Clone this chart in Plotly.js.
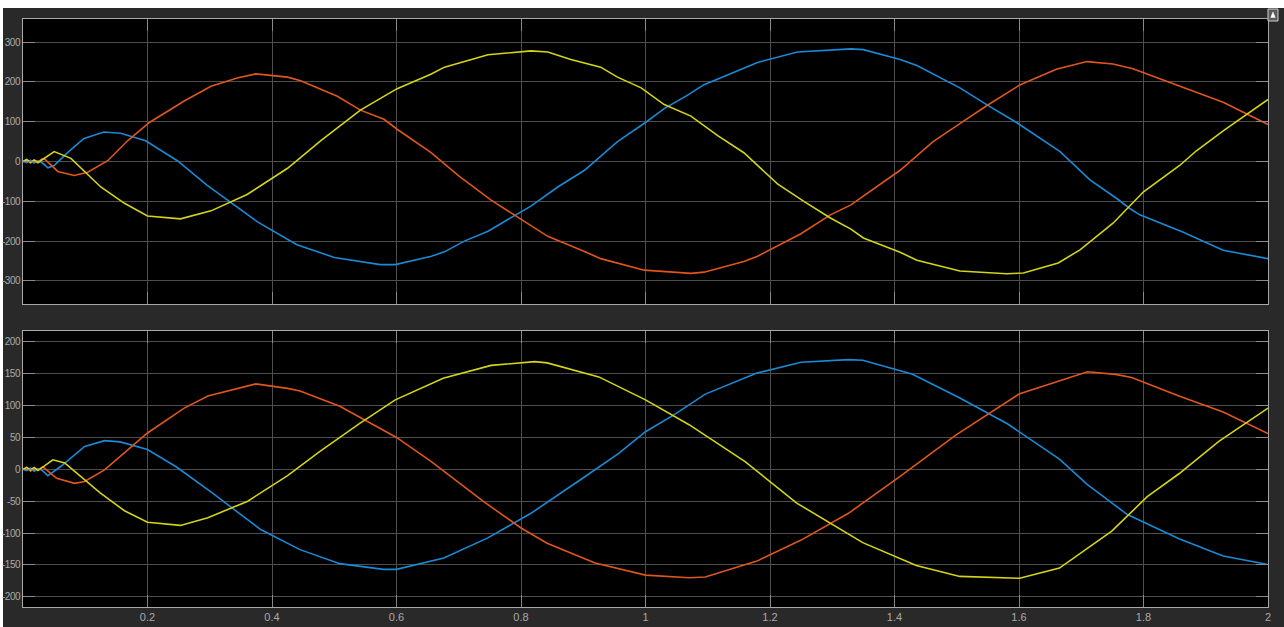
<!DOCTYPE html>
<html>
<head>
<meta charset="utf-8">
<script src="https://cdn.plot.ly/plotly-3.0.1.min.js"></script>
<style>
html,body{margin:0;padding:0;background:#ffffff;width:1284px;height:627px;overflow:hidden;}
#chart{position:absolute;left:0;top:0;width:1284px;height:627px;}
#chart .ytick text, #chart .y2tick text{letter-spacing:-0.5px;}
</style>
</head>
<body>
<div id="chart"></div>
<script>
// ---- Top panel data ----
const tTopBlue = [0,0.006,0.012,0.018,0.024,0.03,0.04,0.05,0.072,0.098,0.13,0.157,0.197,0.248,0.296,0.328,0.376,0.44,0.5,0.574,0.598,0.656,0.677,0.709,0.747,0.784,0.816,0.859,0.902,0.955,1.0,1.03,1.067,1.094,1.153,1.18,1.244,1.33,1.35,1.409,1.436,1.505,1.548,1.596,1.666,1.714,1.757,1.778,1.794,1.864,1.928,2.0];
const vTopBlue = [0,-3,3,-4,2,-2,-16,-10,23,58,74,71,52,2,-60,-97,-151,-209,-241,-259,-259,-238,-227,-200,-175,-141,-112,-64,-22,50,98,133,166,193,231,249,275,283,281,256,241,185,143,98,25,-46,-93,-118,-134,-178,-223,-244];

const tTopOrange = [0,0.006,0.012,0.018,0.024,0.03,0.034,0.056,0.082,0.104,0.136,0.168,0.203,0.259,0.302,0.344,0.374,0.425,0.446,0.505,0.542,0.58,0.601,0.655,0.699,0.752,0.789,0.843,0.902,0.928,0.998,1.073,1.094,1.158,1.18,1.249,1.297,1.33,1.409,1.462,1.505,1.548,1.602,1.66,1.709,1.751,1.783,1.842,1.928,2.0];
const vTopOrange = [0,4,-4,3,-2,6,7,-25,-35,-27,2,52,98,152,189,210,220,212,203,164,129,106,81,23,-35,-97,-134,-188,-226,-244,-273,-281,-278,-251,-238,-182,-134,-109,-22,50,95,140,193,232,251,245,233,198,149,93];

const tTopYellow = [0,0.006,0.012,0.018,0.024,0.03,0.05,0.077,0.125,0.163,0.2,0.253,0.302,0.36,0.425,0.478,0.542,0.601,0.656,0.677,0.747,0.816,0.843,0.88,0.928,0.955,0.993,1.03,1.073,1.116,1.158,1.212,1.255,1.297,1.33,1.35,1.409,1.436,1.505,1.58,1.607,1.663,1.698,1.751,1.8,1.858,1.885,1.928,2.0];
const vTopYellow = [0,5,-2,4,-3,3,25,8,-64,-105,-137,-144,-124,-83,-17,52,129,183,220,237,268,278,275,256,237,212,185,143,114,65,22,-56,-101,-142,-170,-192,-228,-248,-275,-282,-280,-255,-222,-155,-76,-10,27,77,156];

// ---- Bottom panel data ----
const tBotBlue = [0,0.006,0.012,0.018,0.024,0.03,0.04,0.06,0.099,0.131,0.156,0.2,0.246,0.304,0.381,0.445,0.509,0.579,0.6,0.676,0.746,0.816,0.899,0.957,1.0,1.045,1.096,1.179,1.25,1.326,1.349,1.429,1.505,1.582,1.665,1.71,1.774,1.857,1.928,1.998];
const vBotBlue = [0,-2,2,-3,1,-1,-10,4,36,45,43,31,4,-37,-94,-126,-148,-157,-157,-139,-108,-69,-14,25,59,85,118,151,168,172,171,149,112,71,16,-24,-71,-109,-136,-149];

const tBotOrange = [0,0.006,0.012,0.018,0.024,0.032,0.054,0.083,0.099,0.131,0.2,0.259,0.297,0.374,0.425,0.445,0.509,0.573,0.6,0.656,0.739,0.8,0.842,0.919,1.0,1.07,1.096,1.179,1.25,1.326,1.409,1.499,1.6,1.71,1.755,1.781,1.857,1.928,2.0];
const vBotOrange = [0,3,-3,2,-1,4,-14,-22,-19,-1,57,96,115,134,127,123,99,64,50,12,-50,-92,-116,-147,-166,-170,-169,-144,-111,-69,-11,54,118,153,149,144,115,90,56];

const tBotYellow = [0,0.006,0.012,0.018,0.024,0.03,0.048,0.067,0.124,0.163,0.2,0.253,0.297,0.361,0.425,0.477,0.541,0.598,0.675,0.752,0.822,0.842,0.925,1.0,1.07,1.16,1.243,1.349,1.435,1.505,1.601,1.665,1.749,1.806,1.857,1.921,2.0];
const vBotYellow = [0,3,-1,3,-2,2,15,10,-37,-65,-83,-88,-76,-50,-10,28,72,109,143,163,169,167,145,109,70,12,-53,-115,-151,-168,-171,-155,-97,-43,-7,44,96];

// ---- Tick labels ----
const xTickVals = [0.2,0.4,0.6,0.8,1,1.2,1.4,1.6,1.8,2];
const xTickText = ['0.2','0.4','0.6','0.8','1','1.2','1.4','1.6','1.8','2'];
const yTopTickVals = [-300,-200,-100,0,100,200,300];
const yTopTickText = ['-300','-200','-100','0','100','200','300'];
const yBotTickVals = [-200,-150,-100,-50,0,50,100,150,200];
const yBotTickText = ['-200','-150','-100','-50','0','50','100','150','200'];

const cBlue = '#1a8ad6', cOrange = '#e0561c', cYellow = '#d4d418';

function tr(x, y, color, xa, ya) {
  return {x: x, y: y, type: 'scatter', mode: 'lines', xaxis: xa, yaxis: ya,
          line: {color: color, width: 1.6}, hoverinfo: 'skip', showlegend: false};
}

const data = [
  tr(tTopBlue, vTopBlue, cBlue, 'x', 'y'),
  tr(tTopOrange, vTopOrange, cOrange, 'x', 'y'),
  tr(tTopYellow, vTopYellow, cYellow, 'x', 'y'),
  tr(tBotBlue, vBotBlue, cBlue, 'x2', 'y2'),
  tr(tBotOrange, vBotOrange, cOrange, 'x2', 'y2'),
  tr(tBotYellow, vBotYellow, cYellow, 'x2', 'y2')
];

const tickFontY = {family: '"Liberation Sans Narrow", "Liberation Sans", sans-serif', size: 10, color: '#a9a9a9'};
const tickFontX = {family: '"Liberation Sans Narrow", "Liberation Sans", sans-serif', size: 11, color: '#a9a9a9'};

const axCommon = {
  showline: true, linecolor: '#a8a8a8', linewidth: 1, mirror: 'ticks',
  ticks: 'inside', ticklen: 12, tickcolor: '#8a8a8a', tickwidth: 1,
  showgrid: true, gridcolor: '#4e4e4e', gridwidth: 1,
  zeroline: false, fixedrange: true
};

// paper coordinates: plot area spans page x 23..1268, page y 19..607
const layout = {
  width: 1284, height: 627,
  margin: {l: 23, r: 16, t: 19, b: 20, pad: 0},
  paper_bgcolor: '#292929', plot_bgcolor: '#000000',
  showlegend: false,
  xaxis: Object.assign({}, axCommon, {domain: [0, 1], range: [0, 2], anchor: 'y', tickfont: tickFontX,
    tickmode: 'array', tickvals: xTickVals, ticktext: xTickText, showticklabels: false}),
  yaxis: Object.assign({}, axCommon, {domain: [0.5153, 1], range: [-358, 358], anchor: 'x', tickfont: tickFontY,
    tickmode: 'array', tickvals: yTopTickVals, ticktext: yTopTickText}),
  xaxis2: Object.assign({}, axCommon, {domain: [0, 1], range: [0, 2], anchor: 'y2', tickfont: tickFontX,
    tickmode: 'array', tickvals: xTickVals, ticktext: xTickText, showticklabels: true}),
  yaxis2: Object.assign({}, axCommon, {domain: [0, 0.4694], range: [-216, 217], anchor: 'x2', tickfont: tickFontY,
    tickmode: 'array', tickvals: yBotTickVals, ticktext: yBotTickText}),
  shapes: [
    // white frame strips of the screenshot (left and top)
    {type: 'rect', xref: 'paper', yref: 'paper', layer: 'below',
     x0: -0.0190, x1: -0.01606, y0: -0.04, y1: 1.04, fillcolor: '#ffffff', line: {width: 0}},
    {type: 'rect', xref: 'paper', yref: 'paper', layer: 'below',
     x0: -0.0190, x1: 1.02, y0: 1.01871, y1: 1.04, fillcolor: '#ffffff', line: {width: 0}},
    // small window icon at top right
    {type: 'rect', xref: 'paper', yref: 'paper', x0: 1.0, x1: 1.00803, y0: 0.9966, y1: 1.0170,
     fillcolor: '#5a5a5a', line: {color: '#d0d0d0', width: 1}},
    {type: 'path', xref: 'paper', yref: 'paper',
     path: 'M 1.0022 1.0025 L 1.0058 1.0025 L 1.0040 1.0120 Z',
     fillcolor: '#ffffff', line: {color: '#ffffff', width: 0.5}}
  ]
};

Plotly.newPlot('chart', data, layout, {displayModeBar: false, staticPlot: true});
</script>
</body>
</html>
